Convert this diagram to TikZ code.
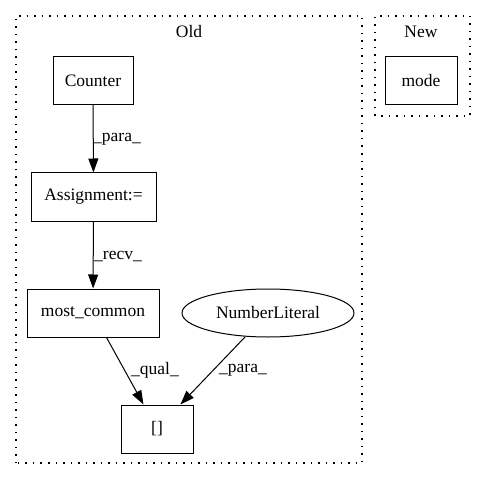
\documentclass[tikz,border=0pt]{standalone}
\usepackage{fontspec}
\setmainfont{Liberation Serif}
\usetikzlibrary{arrows.meta,shapes.geometric}
\begin{document}
\begin{tikzpicture}[x=1pt,y=1pt,
  every node/.style={font=\fontsize{17.5}{20}\selectfont, inner sep=0pt},
  box/.style={draw, line width=1pt, rectangle, minimum height=48pt},
  oval/.style={draw, line width=1pt, ellipse, minimum width=172pt, minimum height=48pt},
  cluster/.style={draw, line width=1.1pt, dash pattern=on 1.5pt off 6pt},
  edge/.style={draw, line width=1pt, -{Triangle[length=14pt,width=10pt]}},
  lbl/.style={}]
\useasboundingbox (0,0) rectangle (484,480);
\draw[cluster] (16,17) rectangle (362,464);
\draw[cluster] (375,364) rectangle (470,464);
\node (oldlbl) at (189,448) {Old};
\node (newlbl) at (421,448) {New};
\node[box, minimum width=80pt] (counter) at (93,399.5) {Counter};
\node[box, minimum width=125pt] (assign) at (93.5,283) {Assignment:=};
\node[box, minimum width=132pt] (mc) at (93,167) {most\_common};
\node[box, minimum width=72pt] (idx) at (157,51) {[]};
\node[oval] (num) at (268,167) {NumberLiteral};
\node[box, minimum width=72pt] (mode) at (421,399) {mode};
\draw[edge] (counter) -- (assign);
\draw[edge] (assign) -- (mc);
\draw[edge] (mc) -- (idx);
\draw[edge] (num) -- (idx);
\node[lbl, anchor=west] (l1) at (93,341) {\_para\_};
\node[lbl, anchor=west] (l2) at (94,223) {\_recv\_};
\node[lbl] (l3) at (155,110) {\_qual\_};
\node[lbl] (l4) at (243,110) {\_para\_};
\end{tikzpicture}
\end{document}
